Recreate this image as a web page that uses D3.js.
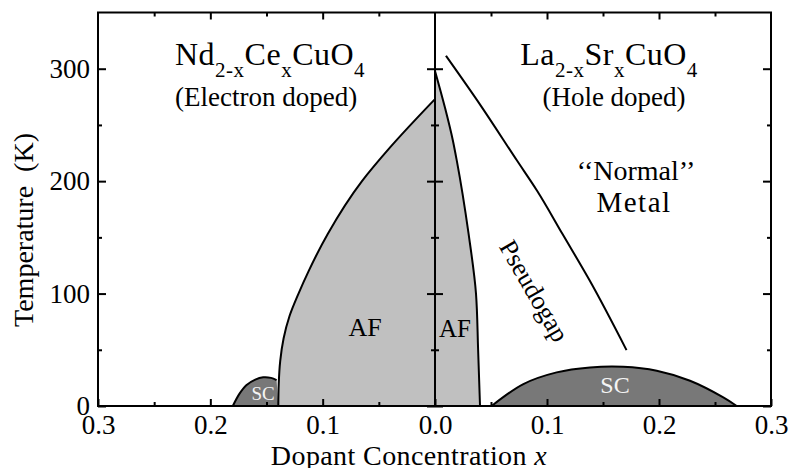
<!DOCTYPE html>
<html>
<head>
<meta charset="utf-8">
<script src="https://cdn.jsdelivr.net/npm/d3@7"></script>
<style>
  html, body { margin: 0; padding: 0; background: #fff; }
  svg text { font-family: "Liberation Serif", "Times New Roman", serif; fill: #000; }
</style>
</head>
<body>
<div id="container"></div>
<script>
// --- data (x = dopant concentration, T in K) ---
// electron doped side (Nd2-xCexCuO4), x grows to the left
var afElectron = [[0, 273], [0.04, 230], [0.065, 200], [0.0955, 153], [0.1125, 120], [0.1215, 100],
                  [0.1295, 80], [0.1348, 60], [0.1378, 40], [0.1391, 20], [0.1395, 0]];
var scElectron = [[0.18, 0], [0.174, 11], [0.168, 18.5], [0.16, 23.5], [0.153, 25.5], [0.146, 25], [0.141, 23]];
// hole doped side (La2-xSrxCuO4)
var afHole = [[0, 298], [0.009, 265], [0.016, 236], [0.0195, 218], [0.03, 153], [0.0366, 100], [0.0385, 50], [0.0402, 0]];
var pseudogap = [[0.0098, 311.5], [0.041, 267], [0.0732, 218.3], [0.091, 191.7], [0.114, 152.7], [0.138, 111.8], [0.171, 49.7]];
var scHole = [[0.0506, 0], [0.0789, 19.5], [0.1086, 29.9], [0.1384, 34.3], [0.168, 34.9], [0.198, 31.4],
              [0.2277, 22.5], [0.2574, 7.7], [0.2694, 0]];

// ticks
var xMajor = [0, 0.1, 0.2, 0.3];
var xMinor = [0.05, 0.15, 0.25];
var yMajor = [0, 100, 200, 300];
var yMinor = [50, 150, 250];

function drawChart() {
    var svgWidth = 790, svgHeight = 468;
    var plotLeft = 98, plotRight = 771, plotTop = 12.5, plotBottom = 406, mid = 435;

    var svg = d3.select("div#container")
        .append("svg")
        .attr("width", svgWidth)
        .attr("height", svgHeight);

    // --- SCALES ---
    var xE = d3.scaleLinear().domain([0.3, 0]).range([plotLeft, mid]);
    var xH = d3.scaleLinear().domain([0, 0.3]).range([mid, plotRight]);
    var y = d3.scaleLinear().domain([0, 350]).range([plotBottom, plotTop]);

    // boundaries monotone in T use monotoneY, the domes use catmull-rom
    var lineE = d3.line().x(d => xE(d[0])).y(d => y(d[1])).curve(d3.curveMonotoneY);
    var lineH = d3.line().x(d => xH(d[0])).y(d => y(d[1])).curve(d3.curveMonotoneY);
    var domeE = d3.line().x(d => xE(d[0])).y(d => y(d[1])).curve(d3.curveCatmullRom.alpha(0.5));
    var domeH = d3.line().x(d => xH(d[0])).y(d => y(d[1])).curve(d3.curveCatmullRom.alpha(0.5));

    var afColor = "#c0c0c0", scColor = "#787878";

    // --- REGIONS ---
    svg.append("path")
        .attr("d", lineE(afElectron) + "L" + xE(0) + "," + y(0) + "Z")
        .attr("fill", afColor);
    // electron SC, closed against the AF boundary
    svg.append("path")
        .attr("d", domeE(scElectron) + "L" + xE(0.1395) + "," + y(0) + "Z")
        .attr("fill", scColor);
    svg.append("path")
        .attr("d", lineH(afHole) + "L" + xH(0) + "," + y(0) + "Z")
        .attr("fill", afColor);
    svg.append("path")
        .attr("d", domeH(scHole) + "Z")
        .attr("fill", scColor);

    // --- BOUNDARY LINES ---
    [lineE(afElectron), domeE(scElectron), lineH(afHole), lineH(pseudogap), domeH(scHole)].forEach(function (d) {
        svg.append("path")
            .attr("d", d)
            .attr("fill", "none")
            .attr("stroke", "#000")
            .attr("stroke-width", 2);
    });

    // --- AXES (ticks point inward) ---
    function cleanAxis(g) {
        g.select(".domain").remove();
        g.selectAll(".tick line").attr("stroke", "#000").attr("stroke-width", 2);
        g.selectAll("text").style("font-size", "27px").attr("fill", "#000");
    }
    var fmt = d3.format(".1f");

    // bottom, labelled
    svg.append("g").attr("transform", "translate(0," + plotBottom + ")")
        .call(d3.axisBottom(xE).tickValues([0.3, 0.2, 0.1]).tickFormat(fmt).tickSizeInner(-7).tickSizeOuter(0).tickPadding(9))
        .call(cleanAxis);
    svg.append("g").attr("transform", "translate(0," + plotBottom + ")")
        .call(d3.axisBottom(xH).tickValues(xMajor).tickFormat(fmt).tickSizeInner(-7).tickSizeOuter(0).tickPadding(9))
        .call(cleanAxis);
    [xE, xH].forEach(function (sc) {
        svg.append("g").attr("transform", "translate(0," + plotBottom + ")")
            .call(d3.axisBottom(sc).tickValues(xMinor).tickFormat("").tickSizeInner(-4).tickSizeOuter(0))
            .call(cleanAxis);
        // top
        svg.append("g").attr("transform", "translate(0," + plotTop + ")")
            .call(d3.axisTop(sc).tickValues([0.1, 0.2]).tickFormat("").tickSizeInner(-7).tickSizeOuter(0))
            .call(cleanAxis);
        svg.append("g").attr("transform", "translate(0," + plotTop + ")")
            .call(d3.axisTop(sc).tickValues(xMinor).tickFormat("").tickSizeInner(-4).tickSizeOuter(0))
            .call(cleanAxis);
    });

    // left, labelled
    svg.append("g").attr("transform", "translate(" + plotLeft + ",0)")
        .call(d3.axisLeft(y).tickValues(yMajor).tickFormat(d3.format("d")).tickSizeInner(-8).tickSizeOuter(0).tickPadding(8))
        .call(cleanAxis);
    svg.append("g").attr("transform", "translate(" + plotLeft + ",0)")
        .call(d3.axisLeft(y).tickValues(yMinor).tickFormat("").tickSizeInner(-4).tickSizeOuter(0))
        .call(cleanAxis);
    // right
    svg.append("g").attr("transform", "translate(" + plotRight + ",0)")
        .call(d3.axisRight(y).tickValues(yMajor).tickFormat("").tickSizeInner(-8).tickSizeOuter(0))
        .call(cleanAxis);
    svg.append("g").attr("transform", "translate(" + plotRight + ",0)")
        .call(d3.axisRight(y).tickValues(yMinor).tickFormat("").tickSizeInner(-4).tickSizeOuter(0))
        .call(cleanAxis);
    // centre line with crossing ticks
    svg.append("g").attr("transform", "translate(" + (mid + 8) + ",0)")
        .call(d3.axisLeft(y).tickValues(yMajor).tickFormat("").tickSizeInner(16).tickSizeOuter(0))
        .call(cleanAxis);
    svg.append("g").attr("transform", "translate(" + (mid + 4) + ",0)")
        .call(d3.axisLeft(y).tickValues(yMinor).tickFormat("").tickSizeInner(8).tickSizeOuter(0))
        .call(cleanAxis);
    svg.append("line")
        .attr("x1", mid).attr("x2", mid)
        .attr("y1", plotBottom).attr("y2", plotTop)
        .attr("stroke", "#000").attr("stroke-width", 2);

    // frame
    svg.append("rect")
        .attr("x", plotLeft).attr("y", plotTop)
        .attr("width", plotRight - plotLeft).attr("height", plotBottom - plotTop)
        .attr("fill", "none").attr("stroke", "#000").attr("stroke-width", 2);

    // --- AXIS TITLES ---
    svg.append("text")
        .attr("transform", "translate(33,230) rotate(-90)")
        .attr("text-anchor", "middle")
        .style("font-size", "28px")
        .style("white-space", "pre")
        .text("Temperature  (K)");

    var xt = svg.append("text")
        .attr("x", 409).attr("y", 465)
        .attr("text-anchor", "middle")
        .style("font-size", "28px")
        .style("letter-spacing", "0.4px");
    xt.append("tspan").text("Dopant Concentration ");
    xt.append("tspan").style("font-style", "italic").text("x");

    // --- COMPOUND TITLES ---
    function formula(x, yb, parts, anchor) {
        var t = svg.append("text")
            .attr("x", x).attr("y", yb)
            .attr("text-anchor", anchor)
            .style("font-size", "32px")
            .style("letter-spacing", "0.5px");
        var sub = false;
        parts.forEach(function (p) {
            var isSub = p[1];
            var dy = isSub === sub ? 0 : (isSub ? 12 : -12);
            t.append("tspan")
                .attr("dy", dy)
                .style("font-size", isSub ? "21px" : "32px")
                .text(p[0]);
            sub = isSub;
        });
        return t;
    }
    formula(175, 65, [["Nd", false], ["2-x", true], ["Ce", false], ["x", true], ["CuO", false], ["4", true]], "start");
    formula(609, 65, [["La", false], ["2-x", true], ["Sr", false], ["x", true], ["CuO", false], ["4", true]], "middle");

    svg.append("text").attr("x", 175).attr("y", 106).style("font-size", "27px").text("(Electron doped)");
    svg.append("text").attr("x", 614).attr("y", 106).attr("text-anchor", "middle").style("font-size", "27px").text("(Hole doped)");

    svg.append("text").attr("x", 636).attr("y", 180).attr("text-anchor", "middle").style("font-size", "28px")
        .text("\u2018\u2018Normal\u2019\u2019");
    svg.append("text").attr("x", 634).attr("y", 212).attr("text-anchor", "middle").style("font-size", "29px")
        .style("letter-spacing", "1.5px")
        .text("Metal");

    // --- REGION LABELS ---
    svg.append("text").attr("x", 365).attr("y", 336).attr("text-anchor", "middle").style("font-size", "26px").text("AF");
    svg.append("text").attr("x", 455).attr("y", 337).attr("text-anchor", "middle").style("font-size", "25px").text("AF");
    svg.append("text").attr("x", 263).attr("y", 400).attr("text-anchor", "middle").style("font-size", "19px")
        .style("fill", "#f4f4f4").text("SC");
    svg.append("text").attr("x", 615).attr("y", 393).attr("text-anchor", "middle").style("font-size", "24px")
        .style("fill", "#f4f4f4").text("SC");
    svg.append("text")
        .attr("transform", "translate(534,291) rotate(60)")
        .attr("text-anchor", "middle")
        .attr("dominant-baseline", "central")
        .style("font-size", "26px")
        .text("Pseudogap");
}

drawChart();
</script>
</body>
</html>
